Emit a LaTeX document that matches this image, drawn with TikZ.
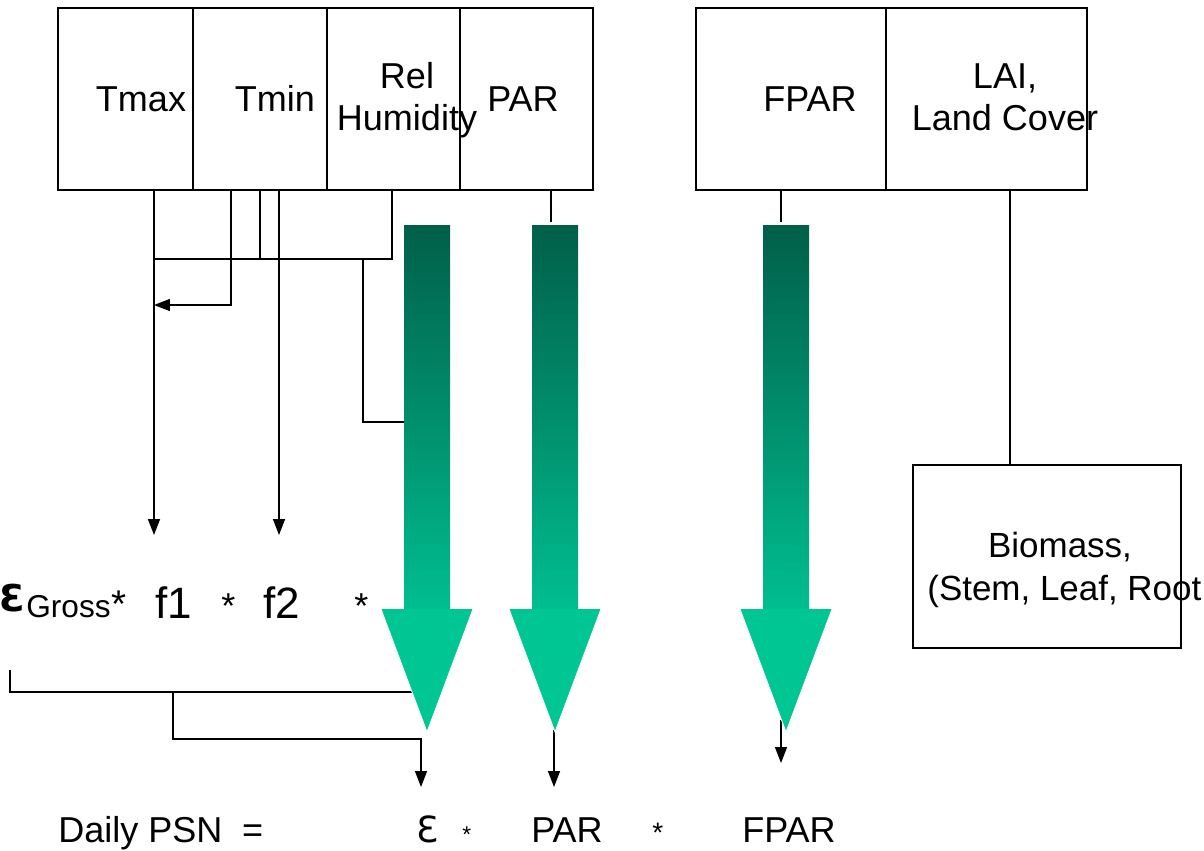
\documentclass[tikz,border=0pt]{standalone}
\usepackage{fontspec}
\setmainfont{Liberation Sans}
\newfontfamily\djv{DejaVu Sans}
\usetikzlibrary{arrows.meta}
\definecolor{gdark}{HTML}{005F49}
\definecolor{gmid}{HTML}{00BE90}
\definecolor{ghead}{HTML}{00C693}
\newcommand{\greenarrow}[1]{%
  \shade[top color=gdark, bottom color=gmid] ({#1-23},225) rectangle ({#1+23},610);
  \fill[ghead] ({#1-46},609) -- ({#1+46},609) -- (#1,732) -- cycle;
  \draw[white, line width=0.5pt] ({#1-46},609) -- (#1,732) -- ({#1+46},609);
}
\begin{document}
\begin{tikzpicture}[x=0.02cm,y=-0.02cm,
  cell/.style={draw, line width=1.1pt, inner sep=0pt, outer sep=0pt, minimum height=3.64cm},
  lbl/.style={inner sep=0pt, anchor=base, align=center, font=\fontsize{20.5pt}{23.9pt}\selectfont},
  lblw/.style={inner sep=0pt, anchor=base west, font=\fontsize{20.5pt}{23.9pt}\selectfont},
  conn/.style={line width=0.85pt},
  arr/.style={conn, -{Triangle[width=0.24cm,length=0.32cm]}},
]
\useasboundingbox (0,0) rectangle (1204,850);

% boxes
\node[cell, minimum width=2.7cm]  (tmaxbox) at (125.5,99) {};
\node[cell, minimum width=2.68cm] (tminbox) at (260,99) {};
\node[cell, minimum width=2.66cm] (rhbox)   at (393.5,99) {};
\node[cell, minimum width=2.66cm] (parbox)  at (526.5,99) {};
\node[cell, minimum width=3.8cm]  (fparbox) at (791,99) {};
\node[cell, minimum width=4.02cm] (laibox)  at (986.5,99) {};
\node[cell, minimum width=5.36cm, minimum height=3.66cm] (biobox) at (1047,556.5) {};

% coordinates
\coordinate (f1in) at (154,535);
\coordinate (f2in) at (279,535);
\coordinate (tmaxj) at (154,305);
\coordinate (xa) at (231,0);
\coordinate (xb) at (260,0);
\coordinate (xc) at (392,0);
\coordinate (xd) at (363,0);
\coordinate (bus1) at (154,259);
\coordinate (a1left) at (405,422);
\coordinate (br0) at (10,670);
\coordinate (br1) at (412,692);
\coordinate (br2) at (173,692);
\coordinate (br3) at (421,739);
\coordinate (epsin) at (421,787);
\coordinate (a2tip) at (554,730);
\coordinate (parin) at (554,787);
\coordinate (a3end) at (781,720);
\coordinate (fparin) at (781,763);
\coordinate (a2top) at (551,222);
\coordinate (a3top) at (781,222);
\coordinate (xl) at (1010,0);

% connectors
\draw[arr] (tmaxbox.south -| f1in) -- (f1in);
\draw[arr] (tminbox.south -| f2in) -- (f2in);
\draw[arr] (tminbox.south -| xa) |- (tmaxj);
\draw[conn] (tminbox.south -| xb) -- (xb |- bus1);
\draw[conn] (rhbox.south -| xc) |- (bus1);
\draw[conn] (xd |- bus1) |- (a1left);
\draw[conn] (br0) |- (br1);
\draw[arr] (br2) |- (br3) -- (epsin);
\draw[arr] (a2tip) -- (parin);
\draw[arr] (a3end) -- (fparin);
\draw[conn] (parbox.south -| a2top) -- (a2top);
\draw[conn] (fparbox.south -| a3top) -- (a3top);
\draw[conn] (laibox.south -| xl) -- (biobox.north -| xl);

% green arrows
\greenarrow{427}
\greenarrow{555}
\greenarrow{786}

% box texts
\node[lbl] (tmaxt) at (141,111) {Tmax};
\node[lbl] (tmint) at (275,111) {Tmin};
\node[lbl] (rht) at (407,130) {Rel\\Humidity};
\node[lbl] (part) at (523,111) {PAR};
\node[lbl] (fpart) at (810,111) {FPAR};
\node[lbl] (lait) at (1005,130) {LAI,\\Land Cover};
\node[lbl, font=\fontsize{19.9pt}{23pt}\selectfont] (biot) at (1060,557) {Biomass,};
\node[lblw, font=\fontsize{19.9pt}{23pt}\selectfont] (biot2) at (927,600) {(Stem, Leaf, Root};

% upper formula
\node[lblw, font=\fontsize{21pt}{24pt}\selectfont\djv\bfseries] (eps) at (-1,611) {Ɛ};
\node[lblw, font=\fontsize{18pt}{20pt}\selectfont] (gross) at (26,617) {Gross};
\node[lblw, font=\fontsize{22pt}{24pt}\selectfont] (st1) at (111,617) {*};
\node[lblw, font=\fontsize{25pt}{28pt}\selectfont] (f1) at (155,618) {f1};
\node[lblw] (st2) at (221,618) {*};
\node[lblw, font=\fontsize{25pt}{28pt}\selectfont] (f2) at (263,618) {f2};
\node[lblw] (st3) at (354,618) {*};

% bottom formula
\node[lblw] (daily) at (58,842) {Daily PSN\hspace{0.55em}=};
\node[lblw, font=\fontsize{20.5pt}{24pt}\selectfont\djv] (eps2) at (416,842) {Ɛ};
\node[lblw, font=\fontsize{13pt}{15pt}\selectfont] (st4) at (462,842) {*};
\node[lblw] (parb) at (531,842) {PAR};
\node[lblw, font=\fontsize{16pt}{18pt}\selectfont] (st5) at (652,842) {*};
\node[lblw] (fparb) at (742,842) {FPAR};
\end{tikzpicture}
\end{document}
